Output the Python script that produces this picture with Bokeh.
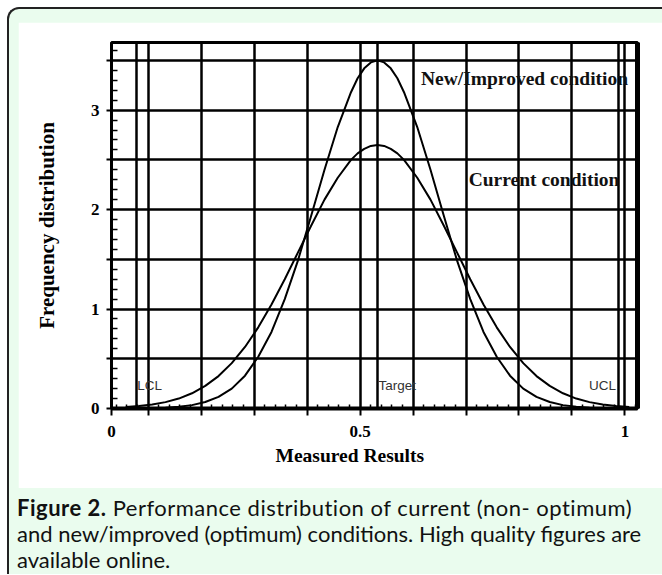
from bokeh.plotting import figure
from bokeh.models import FixedTicker, Div, Label, LinearAxis, Title
from bokeh.layouts import column
from bokeh.embed import file_html
from bokeh.resources import INLINE

# ---------------- data ----------------
measured = [0.058, 0.083, 0.108, 0.133, 0.158, 0.183, 0.208, 0.233, 0.258, 0.283,
            0.308, 0.333, 0.358, 0.383, 0.408, 0.433, 0.458, 0.483, 0.4955, 0.508,
            0.5205, 0.533, 0.5455, 0.558, 0.5705, 0.583, 0.608, 0.633, 0.658, 0.683,
            0.708, 0.733, 0.758, 0.783, 0.808, 0.833, 0.858, 0.883, 0.908, 0.933,
            0.958, 0.983, 1.008]
new_improved = [0.001, 0.002, 0.004, 0.008, 0.017, 0.034, 0.065, 0.117, 0.20, 0.33,
                0.52, 0.77, 1.10, 1.49, 1.94, 2.40, 2.83, 3.18, 3.32, 3.42,
                3.48, 3.50, 3.48, 3.42, 3.32, 3.18, 2.83, 2.40, 1.94, 1.49,
                1.10, 0.77, 0.52, 0.33, 0.20, 0.117, 0.065, 0.034, 0.017, 0.008,
                0.004, 0.002, 0.001]
current = [0.014, 0.024, 0.040, 0.064, 0.100, 0.153, 0.227, 0.326, 0.456, 0.619,
           0.816, 1.045, 1.30, 1.57, 1.84, 2.10, 2.32, 2.50, 2.565, 2.61,
           2.64, 2.65, 2.64, 2.61, 2.565, 2.50, 2.32, 2.10, 1.84, 1.57,
           1.30, 1.045, 0.816, 0.619, 0.456, 0.326, 0.227, 0.153, 0.100, 0.064,
           0.040, 0.024, 0.014]

limit_names = ["LCL", "Target", "UCL"]
limit_values = [0.078, 0.533, 0.987]

x_grid_values = [0.1, 0.2, 0.3, 0.4, 0.5, 0.6, 0.7, 0.8, 0.9, 1.0]
y_grid_values = [0.5, 1.0, 1.5, 2.0, 2.5, 3.0, 3.5]
y_tick_values = [0, 0.5, 1, 1.5, 2, 2.5, 3, 3.5]
y_tick_labels = ["0", "", "1", "", "2", "", "3", ""]
x_tick_labels = {"start": "0", 0.5: "0.5", 1.0: "1"}

series_names = ["New/Improved condition", "Current condition"]

X_START, X_END = 0.0311, 1.0236
Y_START, Y_END = 0.0, 3.68

SERIF = "Liberation Serif"
SANS = "Liberation Sans"

p = figure(width=644, height=466, x_range=(X_START, X_END), y_range=(Y_START, Y_END),
           output_backend="svg", toolbar_location=None,
           min_border_left=93, min_border_right=25, min_border_top=20, min_border_bottom=80,
           background_fill_color="white", border_fill_color="white",
           outline_line_color="black", outline_line_width=3,
           margin=(13, 0, 0, 9))

# grid
p.xgrid[0].ticker = FixedTicker(ticks=x_grid_values + limit_values)
p.ygrid[0].ticker = FixedTicker(ticks=y_grid_values)
for g in (p.xgrid[0], p.ygrid[0]):
    g.grid_line_color = "black"
    g.grid_line_width = 2.5

# x axis
xa = p.xaxis[0]
x_ticks = [X_START] + x_grid_values
xa.ticker = FixedTicker(ticks=x_ticks,
                        minor_ticks=[round(0.02 * i, 2) for i in range(2, 52) if i % 5 != 0])
overrides = {t: "" for t in x_ticks}
overrides[X_START] = x_tick_labels["start"]
overrides[0.5] = x_tick_labels[0.5]
overrides[1.0] = x_tick_labels[1.0]
xa.major_label_overrides = overrides
xa.axis_line_width = 4
xa.axis_line_color = "black"
xa.major_tick_out = 7
xa.major_tick_in = 0
xa.major_tick_line_width = 2
xa.minor_tick_in = 4
xa.minor_tick_out = 0
xa.minor_tick_line_width = 1.5
xa.major_label_standoff = 10
xa.major_label_text_font = SERIF
xa.major_label_text_font_style = "bold"
xa.major_label_text_font_size = "17px"
xa.major_label_text_color = "black"

# x axis title (sits left of the frame centre, as in the original)
p.add_layout(Title(text="Measured Results", align="left", offset=164, standoff=6,
                   text_font=SERIF, text_font_style="bold", text_font_size="19.5px",
                   text_color="black"), "below")

# y axis
ya = p.yaxis[0]
ya.ticker = FixedTicker(ticks=y_tick_values,
                        minor_ticks=[round(0.1 * i, 1) for i in range(1, 37) if i % 5 != 0])
ya.major_label_overrides = {v: l for v, l in zip(y_tick_values, y_tick_labels)}
ya.axis_line_width = 2
ya.axis_line_color = "black"
ya.major_tick_out = 5
ya.major_tick_in = 0
ya.major_tick_line_width = 2
ya.minor_tick_in = 6
ya.minor_tick_out = 0
ya.minor_tick_line_width = 1.5
ya.major_label_standoff = 7
ya.major_label_text_font = SERIF
ya.major_label_text_font_style = "bold"
ya.major_label_text_font_size = "17px"
ya.major_label_text_color = "black"
ya.axis_label = "Frequency distribution"
ya.axis_label_text_font = SERIF
ya.axis_label_text_font_style = "bold"
ya.axis_label_text_font_size = "21px"
ya.axis_label_text_color = "black"
ya.axis_label_standoff = 29

# thick right border
ra = LinearAxis(ticker=FixedTicker(ticks=[]), axis_line_width=5, axis_line_color="black",
                major_tick_line_color=None, minor_tick_line_color=None,
                major_label_text_font_size="0px")
p.add_layout(ra, "right")

# curves
p.line(measured, new_improved, line_color="black", line_width=2)
p.line(measured, current, line_color="black", line_width=2)

# curve labels
p.add_layout(Label(x=0.615, y=3.317, text=series_names[0], text_font=SERIF,
                   text_font_style="bold", text_font_size="19.5px", text_color="#111",
                   text_baseline="middle", text_align="left"))
p.add_layout(Label(x=0.705, y=2.30, text=series_names[1], text_font=SERIF,
                   text_font_style="bold", text_font_size="19.5px", text_color="#111",
                   text_baseline="middle", text_align="left"))

# limit labels
aligns = ["left", "left", "right"]
offsets = [1, 1, -2]
for name, xv, al, off in zip(limit_names, limit_values, aligns, offsets):
    p.add_layout(Label(x=xv, y=0.23, x_offset=off, text=name, text_font=SANS,
                       text_font_size="13.5px", text_color="#333",
                       text_baseline="middle", text_align=al))

caption = Div(
    text=('<div style="padding:7px 0 0 8px;font-family:Lato;font-size:22px;'
          'line-height:26px;color:#111;white-space:nowrap">'
          '<span style="letter-spacing:0.5px"><b>Figure 2.</b> Performance distribution '
          'of current (non- optimum)</span><br>'
          'and new/improved (optimum) conditions. High quality figures are<br>'
          'available online.</div>'),
    width=644, height=86, margin=0)

layout = column(p, caption, margin=(7, 0, 0, 7), styles={
    "background-color": "#eafcee",
    "border-top": "2px solid #222",
    "border-left": "2px solid #222",
    "border-top-left-radius": "12px",
})

open("out.html", "w").write(file_html(layout, INLINE))
